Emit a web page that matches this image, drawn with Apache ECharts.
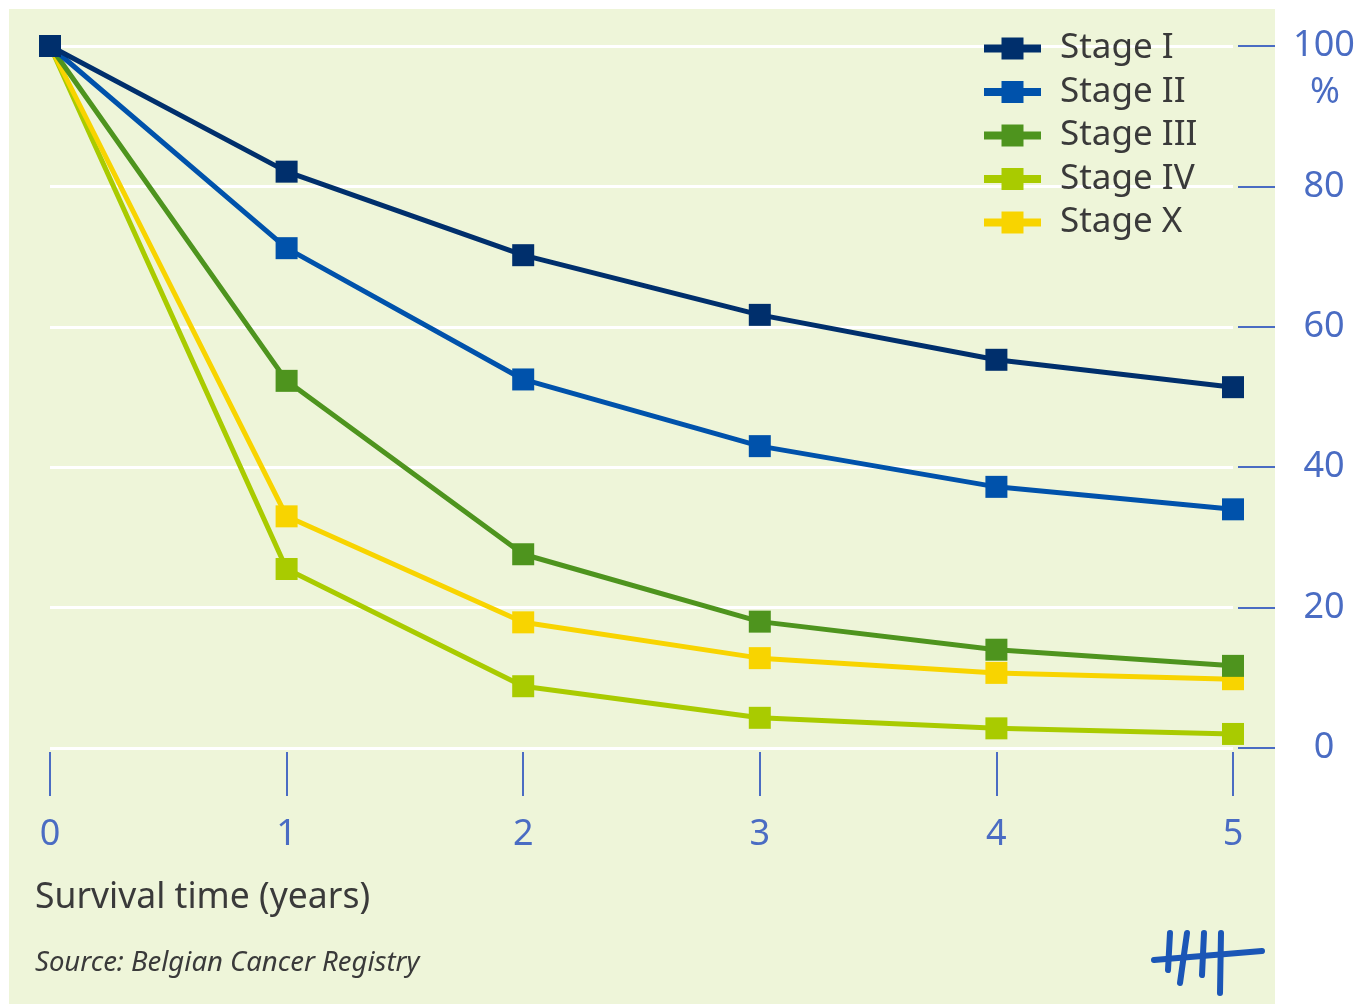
<!DOCTYPE html>
<html>
<head>
<meta charset="utf-8">
<title>Survival by stage</title>
<script src="https://cdn.jsdelivr.net/npm/echarts@6/dist/echarts.min.js"></script>
<style>
  html, body { margin: 0; padding: 0; background: #ffffff; }
  #chart { width: 1360px; height: 1004px; }
</style>
</head>
<body>
<div id="chart"></div>
<script>
// Survival time in years
const years = [0, 1, 2, 3, 4, 5];

// Observed survival (%) per stage
const stageI   = [100, 82.1, 70.2, 61.7, 55.3, 51.4];
const stageII  = [100, 71.2, 52.5, 43.0, 37.2, 34.0];
const stageIII = [100, 52.3, 27.6, 18.0, 14.0, 11.7];
const stageIV  = [100, 25.5, 8.8, 4.3, 2.8, 2.0];
const stageX   = [100, 33.0, 17.9, 12.8, 10.7, 9.8];

const yTicks = [0, 20, 40, 60, 80, 100];

const labelBlue = '#4a6cc3';
const textGrey = '#3a3a3a';
const FONT = '"Noto Sans", "Open Sans", sans-serif';

function pairs(vals) {
  return years.map((x, i) => [x, vals[i]]);
}

function stage(name, vals, color) {
  return {
    name: name,
    type: 'line',
    data: pairs(vals),
    symbol: 'rect',
    symbolSize: 22,
    showAllSymbol: true,
    lineStyle: { color: color, width: 5 },
    itemStyle: { color: color, borderWidth: 0 },
    emphasis: { disabled: true },
    animation: false
  };
}

const chart = echarts.init(document.getElementById('chart'), null, { renderer: 'canvas' });

chart.setOption({
  backgroundColor: '#ffffff',
  animation: false,
  grid: { left: 50, right: 127, top: 46, bottom: 256, containLabel: false },
  legend: {
    orient: 'vertical',
    left: 975,
    top: 26,
    itemWidth: 57,
    itemHeight: 27.5,
    itemGap: 8.5,
    lineStyle: { width: 8 },
    data: ['Stage I', 'Stage II', 'Stage III', 'Stage IV', 'Stage X'],
    textStyle: {
      fontFamily: FONT,
      fontSize: 35,
      color: textGrey,
      padding: [0, 0, 0, 14]
    },
    selectedMode: false
  },
  xAxis: {
    type: 'value',
    min: 0,
    max: 5,
    interval: 1,
    offset: 4,
    axisLine: { show: false, onZero: false },
    axisTick: { show: true, length: 44, lineStyle: { color: labelBlue, width: 2 } },
    splitLine: { show: false },
    axisLabel: {
      margin: 83,
      verticalAlign: 'middle',
      color: labelBlue,
      fontFamily: FONT,
      fontSize: 36,
      formatter: v => String(v)
    }
  },
  yAxis: {
    type: 'value',
    position: 'right',
    min: yTicks[0],
    max: yTicks[yTicks.length - 1],
    interval: 20,
    offset: 5,
    axisLine: { show: false, onZero: false },
    axisTick: { show: true, length: 37, lineStyle: { color: labelBlue, width: 2 } },
    splitLine: { show: true, lineStyle: { color: '#ffffff', width: 3 } },
    axisLabel: {
      margin: 86,
      align: 'center',
      color: labelBlue,
      fontFamily: FONT,
      fontSize: 36
    }
  },
  graphic: [
    {
      type: 'rect',
      z: -10,
      silent: true,
      shape: { x: 9, y: 9, width: 1266, height: 995 },
      style: { fill: '#eef5d9' }
    },
    {
      type: 'text',
      left: 1310,
      top: 75,
      silent: true,
      style: { text: '%', font: '36px ' + FONT, fill: labelBlue }
    },
    {
      type: 'text',
      left: 35,
      top: 880,
      silent: true,
      style: { text: 'Survival time (years)', font: '35.5px ' + FONT, fill: textGrey }
    },
    {
      type: 'text',
      left: 35,
      top: 950,
      silent: true,
      style: { text: 'Source: Belgian Cancer Registry', font: 'italic 27.5px ' + FONT, fill: textGrey }
    },
    {
      // tally-mark emblem
      type: 'group',
      silent: true,
      children: [
        { type: 'line', shape: { x1: 1154, y1: 960, x2: 1262, y2: 951 }, style: { stroke: '#1b56b6', lineWidth: 6, lineCap: 'round' } },
        { type: 'line', shape: { x1: 1170, y1: 933, x2: 1168, y2: 970 }, style: { stroke: '#1b56b6', lineWidth: 6, lineCap: 'round' } },
        { type: 'line', shape: { x1: 1187, y1: 933, x2: 1180, y2: 983 }, style: { stroke: '#1b56b6', lineWidth: 6, lineCap: 'round' } },
        { type: 'line', shape: { x1: 1204, y1: 933, x2: 1202, y2: 975 }, style: { stroke: '#1b56b6', lineWidth: 6, lineCap: 'round' } },
        { type: 'line', shape: { x1: 1221, y1: 933, x2: 1220, y2: 993 }, style: { stroke: '#1b56b6', lineWidth: 6, lineCap: 'round' } }
      ]
    }
  ],
  series: [
    stage('Stage IV', stageIV, '#a9cb00'),
    stage('Stage X', stageX, '#f8d400'),
    stage('Stage III', stageIII, '#4e941e'),
    stage('Stage II', stageII, '#0052ab'),
    stage('Stage I', stageI, '#002f6c')
  ]
});
</script>
</body>
</html>
